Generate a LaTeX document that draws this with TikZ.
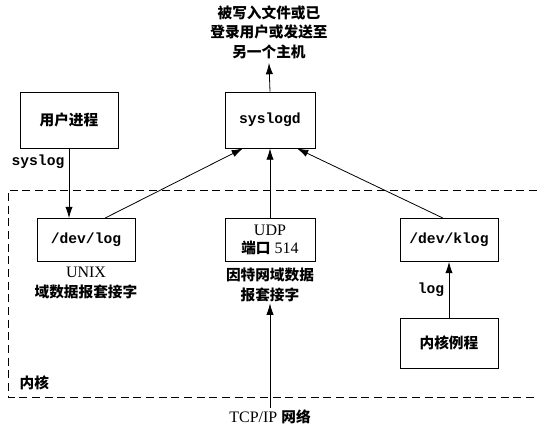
\documentclass[tikz,border=0pt]{standalone}
\usepackage{fontspec}
\newfontfamily\cjk{Noto Sans CJK SC}
\setmonofont{Liberation Mono}
\setmainfont{Liberation Serif}
\usepackage{tikz}
\usetikzlibrary{arrows.meta,positioning,calc}

\begin{document}
\begin{tikzpicture}[x=0.75pt,y=-0.75pt,line width=0.6pt,
  box/.style={draw, align=center, inner sep=1pt},
  lbl/.style={align=center, inner sep=1pt},
  cn/.style={font=\fontsize{11}{14.6}\selectfont\cjk\bfseries},
  tt/.style={font=\fontsize{11}{13}\selectfont\ttfamily\bfseries},
  rm/.style={font=\fontsize{12}{15}\selectfont},
  arr/.style={-{Latex[length=8.5pt,width=5.5pt]}}]
  \useasboundingbox (0,0) rectangle (537,430);

  % kernel area
  \draw[dash pattern=on 6pt off 3.5pt] (537,190) -| (8,397) -- (537,397);
  \node[lbl, cn, anchor=west] (kernel) at (18,383) {内核};

  % boxes
  \node[box, cn, minimum width=73.5pt, minimum height=42pt] (user) at (69,120) {用户进程};
  \node[box, tt, minimum width=67.5pt, minimum height=42pt] (syslogd) at (270,120) {syslogd};
  \node[box, tt, minimum width=73.5pt, minimum height=32.25pt] (devlog) at (86,240) {/dev/log};
  \node[box, rm, minimum width=67.5pt, minimum height=32.25pt] (udp) at (270,240)
    {UDP\\[-2pt]{\cjk\bfseries\fontsize{11}{13}\selectfont 端口} 514};
  \node[box, tt, minimum width=73.5pt, minimum height=32.25pt] (klog) at (449,240) {/dev/klog};
  \node[box, cn, minimum width=73.5pt, minimum height=37.5pt] (kroutine) at (449,343) {内核例程};

  % labels
  \node[lbl, cn, inner sep=3pt] (out) at (269,32) {被写入文件或已\\登录用户或发送至\\另一个主机};
  \node[lbl, tt] (syslogLbl) at (38,162) {syslog};
  \node[lbl, tt] (logLbl) at (431,290) {log};
  \node[lbl, cn] (unixLbl) at (86,283) {{\rmfamily\mdseries\fontsize{12}{14.6}\selectfont UNIX}\\域数据报套接字};
  \node[lbl, cn] (inetLbl) at (270,285) {因特网域数据\\报套接字};
  \node[lbl, rm] (tcp) at (270,417) {TCP/IP {\cjk\bfseries\fontsize{11}{13}\selectfont 网络}};

  % connectors
  \draw[arr] (syslogd.north) -- (out.south);
  \draw[arr] (user.south) -- (user.south |- devlog.north);
  \draw[arr] ($(devlog.north)+(19,0)$) -- ($(syslogd.south)+(-27,0)$);
  \draw[arr] (udp.north) -- (syslogd.south);
  \draw[arr] ($(klog.north)+(-6,0)$) -- ($(syslogd.south)+(27,0)$);
  \draw[arr] (kroutine.north) -- (klog.south);
  \draw[arr] (tcp.north) -- (inetLbl.south);
\end{tikzpicture}
\end{document}
